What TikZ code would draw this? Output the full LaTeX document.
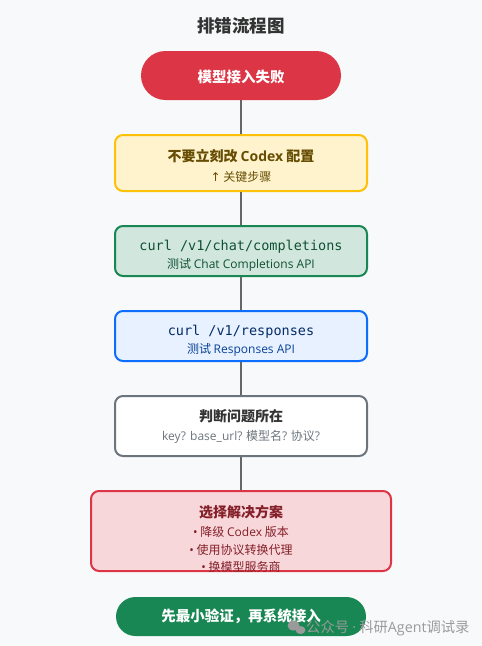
\documentclass[tikz,border=0pt]{standalone}
\usepackage{fontspec}
\setmainfont{Noto Sans CJK SC}
\setmonofont{DejaVu Sans Mono}
\newfontfamily\lat{Open Sans}
\newfontfamily\sym{DejaVu Sans}
\definecolor{bg}{HTML}{F8F9FA}
\definecolor{cred}{HTML}{DC3545}
\definecolor{yfill}{HTML}{FFF3CD}
\definecolor{ydraw}{HTML}{FFC107}
\definecolor{ytext}{HTML}{664D03}
\definecolor{gfill}{HTML}{D1E7DD}
\definecolor{gdraw}{HTML}{198754}
\definecolor{gtext}{HTML}{0F5132}
\definecolor{bfill}{HTML}{E7F1FF}
\definecolor{bdraw}{HTML}{0D6EFD}
\definecolor{btext}{HTML}{052C65}
\definecolor{btext2}{HTML}{084298}
\definecolor{kdraw}{HTML}{6C757D}
\definecolor{ktext}{HTML}{333333}
\definecolor{rfill}{HTML}{F8D7DA}
\definecolor{rtext}{HTML}{842029}
\definecolor{conn}{HTML}{666666}
\definecolor{wm}{HTML}{9A9A9A}
\begin{document}
\begin{tikzpicture}[x=1pt,y=-1pt,
  box/.style={draw, line width=2pt, rounded corners=8pt, minimum width=252pt, inner sep=0pt, anchor=center},
  pill/.style={draw=none, inner sep=0pt, anchor=center},
  conline/.style={draw=conn, line width=2pt},
  ttl/.style={font=\fontsize{14}{16}\selectfont\bfseries, inner sep=0pt},
  sub/.style={font=\fontsize{12}{14}\selectfont, inner sep=0pt},
  mono/.style={font=\fontsize{13.5}{15}\ttfamily, inner sep=0pt}]
\fill[bg] (0,0) rectangle (482,646);
\useasboundingbox (0,0) rectangle (482,646);

\node[font=\fontsize{17.5}{20}\selectfont\bfseries, text=ktext, inner sep=0pt] (title) at (241,26) {排错流程图};

% start pill
\node[pill, fill=cred, rounded corners=24.5pt, minimum width=200pt, minimum height=49pt] (p1) at (241,75.5) {};
\node[font=\fontsize{14.5}{16}\selectfont\bfseries, text=white, inner sep=0pt] (p1t) at (241,77) {模型接入失败};

% box 2
\node[box, draw=ydraw, fill=yfill, minimum height=56pt] (b2) at (241,163) {};
\node[ttl, text=ytext] (b2t) at (241,156) {不要立刻改 {\lat\bfseries Codex} 配置};
\node[sub, text=ytext] (b2s) at (241,177) {{\sym ↑} 关键步骤};

% box 3
\node[box, draw=gdraw, fill=gfill, minimum height=50pt] (b3) at (241,251) {};
\node[mono, text=gtext] (b3t) at (241,247) {curl /v1/chat/completions};
\node[sub, text=gtext] (b3s) at (241,264.5) {测试 {\lat Chat Completions API}};

% box 4
\node[box, draw=bdraw, fill=bfill, minimum height=50pt] (b4) at (241,336) {};
\node[mono, text=btext] (b4t) at (241,332) {curl /v1/responses};
\node[sub, text=btext2] (b4s) at (241,349.5) {测试 {\lat Responses API}};

% box 5
\node[box, draw=kdraw, fill=white, minimum height=60pt] (b5) at (241,426) {};
\node[ttl, text=ktext] (b5t) at (241,416) {判断问题所在};
\node[sub, text=kdraw] (b5s) at (241,437) {{\lat key? base\_url?} 模型名{\lat ?} 协议{\lat ?}};

% box 6
\node[box, draw=cred, fill=rfill, minimum width=300pt, minimum height=80pt] (b6) at (241,531) {};
\node[ttl, text=rtext] (b6t) at (241,512) {选择解决方案};
\node[sub, text=rtext] (b6a) at (241,532) {{\lat •} 降级 {\lat Codex} 版本};
\node[sub, text=rtext] (b6b) at (241,549.5) {{\lat •} 使用协议转换代理};
\node[sub, text=rtext] (b6c) at (241,567) {{\lat •} 换模型服务商};

% end pill
\node[pill, fill=gdraw, rounded corners=19.5pt, minimum width=250pt, minimum height=39pt] (p2) at (241,616.5) {};
\node[font=\fontsize{14.5}{16}\selectfont\bfseries, text=white, inner sep=0pt] (p2t) at (241,616) {先最小验证，再系统接入};

% connectors
\draw[conline] (p1.south) -- (b2.north);
\draw[conline] (b2.south) -- (b3.north);
\draw[conline] (b3.south) -- (b4.north);
\draw[conline] (b4.south) -- (b5.north);
\draw[conline] (b5.south) -- (b6.north);

% watermark
\fill[wm] (293.5,625.5) ellipse (6pt and 5pt);
\fill[wm] (300.5,630) ellipse (5pt and 4pt);
\node[font=\fontsize{14.3}{16}\selectfont, text=wm, inner sep=0pt, anchor=west] (wmk) at (306,628) {公众号 {\lat ·} 科研{\lat Agent}调试录};
\end{tikzpicture}
\end{document}
